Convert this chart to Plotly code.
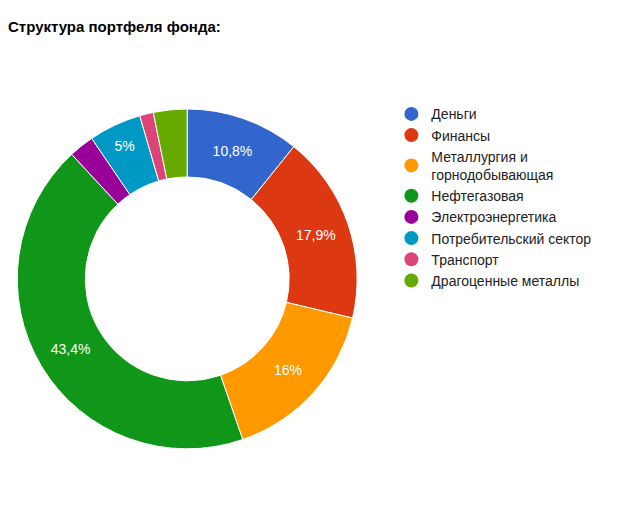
import plotly.graph_objects as go

labels = ["Деньги", "Финансы", "Металлургия и<br>горнодобывающая", "Нефтегазовая",
          "Электроэнергетика", "Потребительский сектор", "Транспорт", "Драгоценные металлы"]
values = [10.8, 17.9, 16.0, 43.4, 2.4, 5.0, 1.3, 3.2]
texts = ["10,8%", "17,9%", "16%", "43,4%", "", "5%", "", ""]
colors = ["#3366cc", "#dc3912", "#ff9900", "#109618", "#990099", "#0099c6", "#dd4477", "#66aa00"]

fig = go.Figure()
fig.add_trace(go.Pie(labels=labels, values=values, text=texts, textinfo="text",
                     textposition="inside", insidetextorientation="horizontal",
                     sort=False, direction="clockwise", rotation=0, hole=0.6,
                     marker=dict(colors=colors, line=dict(color="white", width=1)),
                     textfont=dict(color="white", size=14, family="Liberation Sans"),
                     showlegend=False, domain=dict(x=[0.0145, 0.5455], y=[0.1505, 0.8055])))
for l, c in zip(labels, colors):
    fig.add_trace(go.Scatter(x=[None], y=[None], mode="markers", name=l,
                             marker=dict(symbol="circle", size=14, color=c)))
fig.update_layout(
    width=640, height=519, margin=dict(l=0, r=0, t=0, b=0),
    paper_bgcolor="white", plot_bgcolor="white",
    font=dict(family="Liberation Sans", size=14, color="#222"),
    xaxis=dict(visible=False), yaxis=dict(visible=False),
    legend=dict(x=0.599, y=0.826, xanchor="left", yanchor="top", tracegroupgap=8,
                font=dict(size=14, color="#222"), itemwidth=30),
    title=dict(text="<b>Структура портфеля фонда:</b>", x=0.0, y=0.963,
               xanchor="left", yanchor="middle", font=dict(size=15, color="black")),
)
fig.write_html("out.html")
